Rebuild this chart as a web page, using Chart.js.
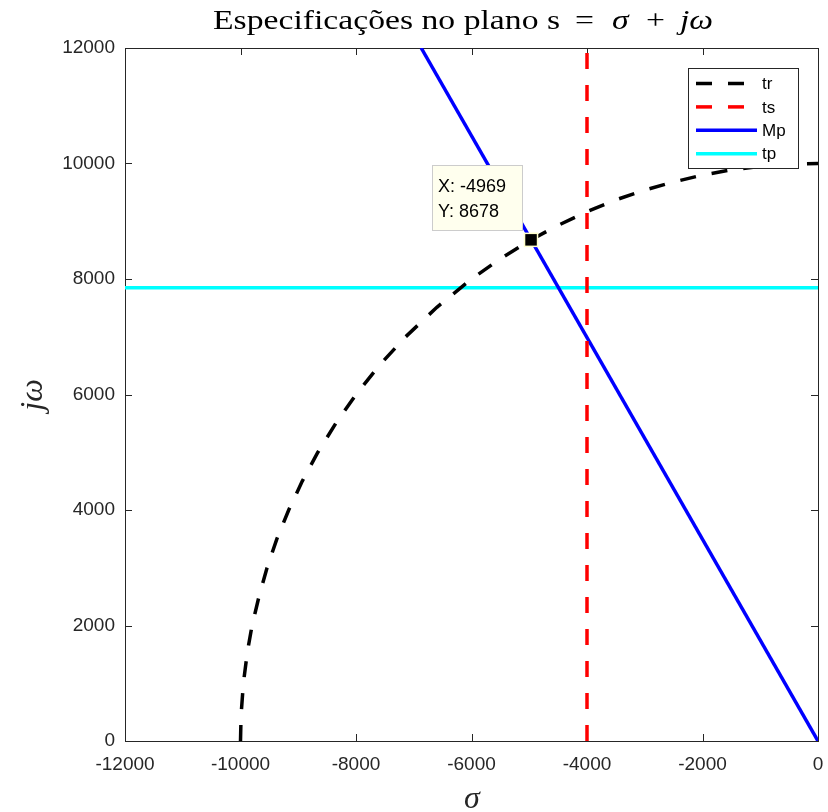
<!DOCTYPE html>
<html>
<head>
<meta charset="utf-8">
<script src="https://cdn.jsdelivr.net/npm/chart.js@4.4.1/dist/chart.umd.min.js"></script>
<style>
  html, body { margin: 0; padding: 0; background: #fff; }
  #wrap { width: 828px; height: 812px; }
</style>
</head>
<body>
<div id="wrap"><canvas id="chart" width="828" height="812"></canvas></div>
<script>
// values
const trPoints = [
  [-10000, 0], [-9990, 450], [-9950, 1000], [-9880, 1550], [-9800, 2000],
  [-9680, 2500], [-9540, 3000], [-9370, 3500], [-9165, 4000], [-8930, 4500],
  [-8660, 5000], [-8350, 5500], [-8000, 6000], [-7600, 6500], [-7140, 7000],
  [-6600, 7510], [-6000, 8000], [-5500, 8350], [-4969, 8678], [-4500, 8930],
  [-4000, 9165], [-3500, 9370], [-3000, 9540], [-2500, 9680], [-2000, 9800],
  [-1500, 9890], [-1000, 9950], [-500, 9990], [0, 10000]
];
const tsPoints = [[-4000, 0], [-4000, 12000]];
const mpPoints = [[0, 0], [-6871, 12000]];
const tpPoints = [[-12000, 7850], [0, 7850]];
const dataTip = [-4969, 8678];
const seriesNames = ["tr", "ts", "Mp", "tp"];
const seriesColors = ["#000000", "#ff0000", "#0000ff", "#00ffff"];
const seriesDashed = [true, true, false, false];
const xTicks = [-12000, -10000, -8000, -6000, -4000, -2000, 0];
const yTicks = [0, 2000, 4000, 6000, 8000, 10000, 12000];

const axisColor = "#262626";
const sansFont = "'Liberation Sans', Arial, Helvetica, sans-serif";
const serifFont = "'Liberation Serif', 'DejaVu Serif', serif";
const DASH = [16, 16];
const LW = 3.5;

const toXY = (pts) => pts.map(([x, y]) => ({ x, y }));

const lineSet = (i, pts) => ({
  label: seriesNames[i],
  data: toXY(pts),
  showLine: true,
  borderColor: seriesColors[i],
  backgroundColor: seriesColors[i],
  borderWidth: LW,
  borderDash: seriesDashed[i] ? DASH : [],
  pointRadius: 0,
  tension: 0,
  fill: false
});

// box + inward ticks, drawn under the data
const framePlugin = {
  id: "frame",
  beforeDatasetsDraw(chart) {
    const { ctx, chartArea: a, scales } = chart;
    ctx.save();
    ctx.strokeStyle = axisColor;
    ctx.lineWidth = 1;
    ctx.strokeRect(Math.round(a.left) + 0.5, Math.round(a.top) + 0.5,
      Math.round(a.right - a.left), Math.round(a.bottom - a.top));
    const tl = 7;
    ctx.beginPath();
    xTicks.forEach(v => {
      const px = Math.round(scales.x.getPixelForValue(v)) + 0.5;
      ctx.moveTo(px, a.bottom); ctx.lineTo(px, a.bottom - tl);
      ctx.moveTo(px, a.top); ctx.lineTo(px, a.top + tl);
    });
    yTicks.forEach(v => {
      const py = Math.round(scales.y.getPixelForValue(v)) + 0.5;
      ctx.moveTo(a.left, py); ctx.lineTo(a.left + tl, py);
      ctx.moveTo(a.right, py); ctx.lineTo(a.right - tl, py);
    });
    ctx.stroke();
    ctx.restore();
  }
};

// title, axis labels, legend box and the data tip
const annotPlugin = {
  id: "annot",
  afterDraw(chart) {
    const { ctx, scales } = chart;
    ctx.save();

    // title pieces placed like the LaTeX rendering: [text, italic, left x]
    const parts = [
      ["Especificações no plano s", false, 213],
      ["=", false, 575],
      ["σ", true, 612],
      ["+", false, 646],
      ["jω", true, 680]
    ];
    const fs = 27;
    const fontOf = (it) => `${it ? "italic " : ""}${fs}px ${serifFont}`;
    ctx.font = fontOf(false);
    const sx = (560 - 213) / ctx.measureText(parts[0][0]).width;
    ctx.fillStyle = "#000";
    ctx.textBaseline = "alphabetic";
    ctx.textAlign = "left";
    parts.forEach(([t, it, x0]) => {
      ctx.font = fontOf(it);
      ctx.save();
      ctx.translate(x0, 29);
      ctx.scale(sx, 1);
      ctx.fillText(t, 0, 0);
      ctx.restore();
    });

    // axis labels
    ctx.fillStyle = axisColor;
    ctx.textAlign = "center";
    ctx.font = `italic 32px ${serifFont}`;
    ctx.fillText("σ", 472, 808);
    ctx.save();
    ctx.translate(42, 395);
    ctx.rotate(-Math.PI / 2);
    ctx.fillText("jω", 0, 0);
    ctx.restore();

    // legend
    const lx = 688, ly = 68, lw = 110, lh = 100;
    ctx.fillStyle = "#fff";
    ctx.fillRect(lx, ly, lw, lh);
    ctx.strokeStyle = axisColor;
    ctx.lineWidth = 1;
    ctx.strokeRect(lx + 0.5, ly + 0.5, lw, lh);
    ctx.font = `17px ${sansFont}`;
    ctx.textAlign = "left";
    ctx.textBaseline = "middle";
    seriesNames.forEach((name, i) => {
      const y = 83.5 + i * 23.4;
      ctx.beginPath();
      ctx.strokeStyle = seriesColors[i];
      ctx.lineWidth = LW;
      ctx.setLineDash(seriesDashed[i] ? DASH : []);
      ctx.moveTo(696, y);
      ctx.lineTo(757, y);
      ctx.stroke();
      ctx.setLineDash([]);
      ctx.fillStyle = "#000";
      ctx.fillText(name, 762, y + 1);
    });

    // data tip box
    ctx.fillStyle = "#ffffee";
    ctx.fillRect(432, 165, 90, 65);
    ctx.strokeStyle = "#cccccc";
    ctx.lineWidth = 1;
    ctx.strokeRect(432.5, 165.5, 90, 65);
    ctx.fillStyle = "#000";
    ctx.font = `18px ${sansFont}`;
    ctx.textBaseline = "alphabetic";
    ctx.fillText(`X: ${dataTip[0]}`, 438, 192);
    ctx.fillText(`Y: ${dataTip[1]}`, 438, 217);

    // marker
    const mx = scales.x.getPixelForValue(dataTip[0]);
    const my = scales.y.getPixelForValue(dataTip[1]);
    ctx.fillStyle = "#000";
    ctx.strokeStyle = "#ffffcc";
    ctx.lineWidth = 1.5;
    ctx.fillRect(mx - 6.5, my - 6.5, 13, 13);
    ctx.strokeRect(mx - 6.5, my - 6.5, 13, 13);

    ctx.restore();
  }
};

const tickFont = { family: sansFont, size: 19 };
const plainTick = (v) => String(v);

new Chart(document.getElementById("chart"), {
  type: "scatter",
  data: {
    datasets: [
      lineSet(0, trPoints),
      lineSet(1, tsPoints),
      lineSet(2, mpPoints),
      lineSet(3, tpPoints)
    ]
  },
  options: {
    responsive: false,
    animation: false,
    layout: { padding: { top: 48, right: 10, bottom: 0, left: 0 } },
    plugins: {
      legend: { display: false },
      tooltip: { enabled: false },
      title: { display: false }
    },
    scales: {
      x: {
        type: "linear",
        min: -12000,
        max: 0,
        afterBuildTicks: (s) => { s.ticks = xTicks.map(v => ({ value: v })); },
        afterFit: (s) => { s.height = 71; s.paddingLeft = 0; s.paddingRight = 0; },
        grid: { display: false, drawTicks: false },
        border: { display: false },
        ticks: { color: axisColor, font: tickFont, padding: 12, maxRotation: 0, callback: plainTick }
      },
      y: {
        type: "linear",
        min: 0,
        max: 12000,
        afterBuildTicks: (s) => { s.ticks = yTicks.map(v => ({ value: v })); },
        afterFit: (s) => { s.width = 125; s.paddingTop = 0; s.paddingBottom = 0; },
        grid: { display: false, drawTicks: false },
        border: { display: false },
        ticks: { color: axisColor, font: tickFont, padding: 10, callback: plainTick }
      }
    }
  },
  plugins: [framePlugin, annotPlugin]
});
</script>
</body>
</html>
